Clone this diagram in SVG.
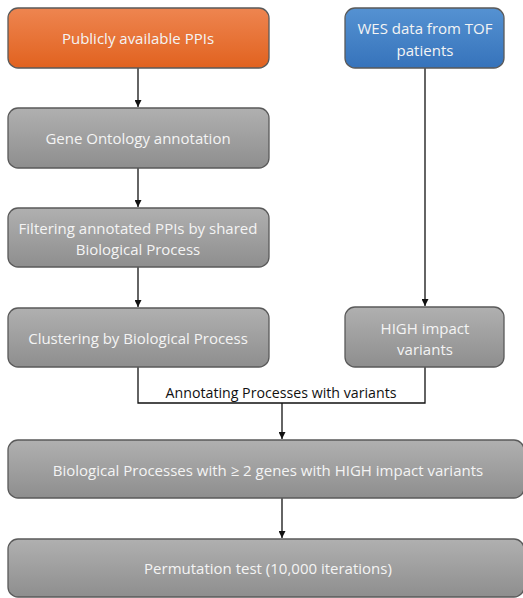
<svg xmlns="http://www.w3.org/2000/svg" width="523" height="598" viewBox="0 0 523 598">
<defs>
<linearGradient id="gOr" x1="0" y1="0" x2="0" y2="1"><stop offset="0" stop-color="#EE8550"/><stop offset="1" stop-color="#E1621F"/></linearGradient>
<linearGradient id="gBl" x1="0" y1="0" x2="0" y2="1"><stop offset="0" stop-color="#5592D2"/><stop offset="1" stop-color="#3673BB"/></linearGradient>
<linearGradient id="gGr" x1="0" y1="0" x2="0" y2="1"><stop offset="0" stop-color="#B0B0B0"/><stop offset="1" stop-color="#8E8E8E"/></linearGradient>
<marker id="ah" viewBox="0 0 10 10" refX="10" refY="5" markerWidth="7" markerHeight="7" markerUnits="userSpaceOnUse" orient="auto"><path d="M0,0 L10,5 L0,10 z" fill="#111"/></marker>
<style>
.box{stroke:#5a5a5a;stroke-width:1.3}
.or{fill:url(#gOr)}.bl{fill:url(#gBl)}.gr{fill:url(#gGr)}
.t{font-family:"Open Sans","Liberation Sans",sans-serif;font-size:15px;fill:#F4F4F4;text-anchor:middle;dominant-baseline:central}
.lab{font-family:"Open Sans","Liberation Sans",sans-serif;font-size:14.2px;fill:#111;text-anchor:middle;dominant-baseline:central}
.c{fill:none;stroke:#111;stroke-width:1.3}
</style>
</defs>
<g id="connectors">
<line class="c" x1="138" y1="68" x2="138" y2="107" marker-end="url(#ah)"/>
<line class="c" x1="138" y1="168" x2="138" y2="207" marker-end="url(#ah)"/>
<line class="c" x1="138" y1="267" x2="138" y2="307" marker-end="url(#ah)"/>
<line class="c" x1="425" y1="68" x2="425" y2="306" marker-end="url(#ah)"/>
<polyline class="c" points="138,367 138,403 425,403 425,367"/>
<line class="c" x1="282" y1="403" x2="282" y2="439" marker-end="url(#ah)"/>
<line class="c" x1="282" y1="498" x2="282" y2="538" marker-end="url(#ah)"/>
<text class="lab" x="281" y="392">Annotating Processes with variants</text>
</g>
<g id="ppis"><rect class="box or" x="8" y="8" width="261" height="60" rx="10"/><text class="t" x="138" y="38">Publicly available PPIs</text></g>
<g id="wes"><rect class="box bl" x="345" y="8" width="159" height="60" rx="10"/><text class="t" x="425" y="28">WES data from TOF</text><text class="t" x="425" y="50">patients</text></g>
<g id="go"><rect class="box gr" x="8" y="108" width="261" height="60" rx="10"/><text class="t" x="138" y="138">Gene Ontology annotation</text></g>
<g id="filter"><rect class="box gr" x="8" y="208" width="261" height="59" rx="10"/><text class="t" x="138" y="228">Filtering annotated PPIs by shared</text><text class="t" x="138" y="249">Biological Process</text></g>
<g id="cluster"><rect class="box gr" x="8" y="308" width="261" height="59" rx="10"/><text class="t" x="138" y="338">Clustering by Biological Process</text></g>
<g id="high"><rect class="box gr" x="345" y="307" width="159" height="60" rx="10"/><text class="t" x="425" y="328">HIGH impact</text><text class="t" x="425" y="349">variants</text></g>
<g id="bp"><rect class="box gr" x="8" y="440" width="516" height="58" rx="10"/><text class="t" x="268" y="470">Biological Processes with ≥ 2 genes with HIGH impact variants</text></g>
<g id="perm"><rect class="box gr" x="8" y="539" width="516" height="58" rx="10"/><text class="t" x="268" y="568">Permutation test (10,000 iterations)</text></g>
</svg>
